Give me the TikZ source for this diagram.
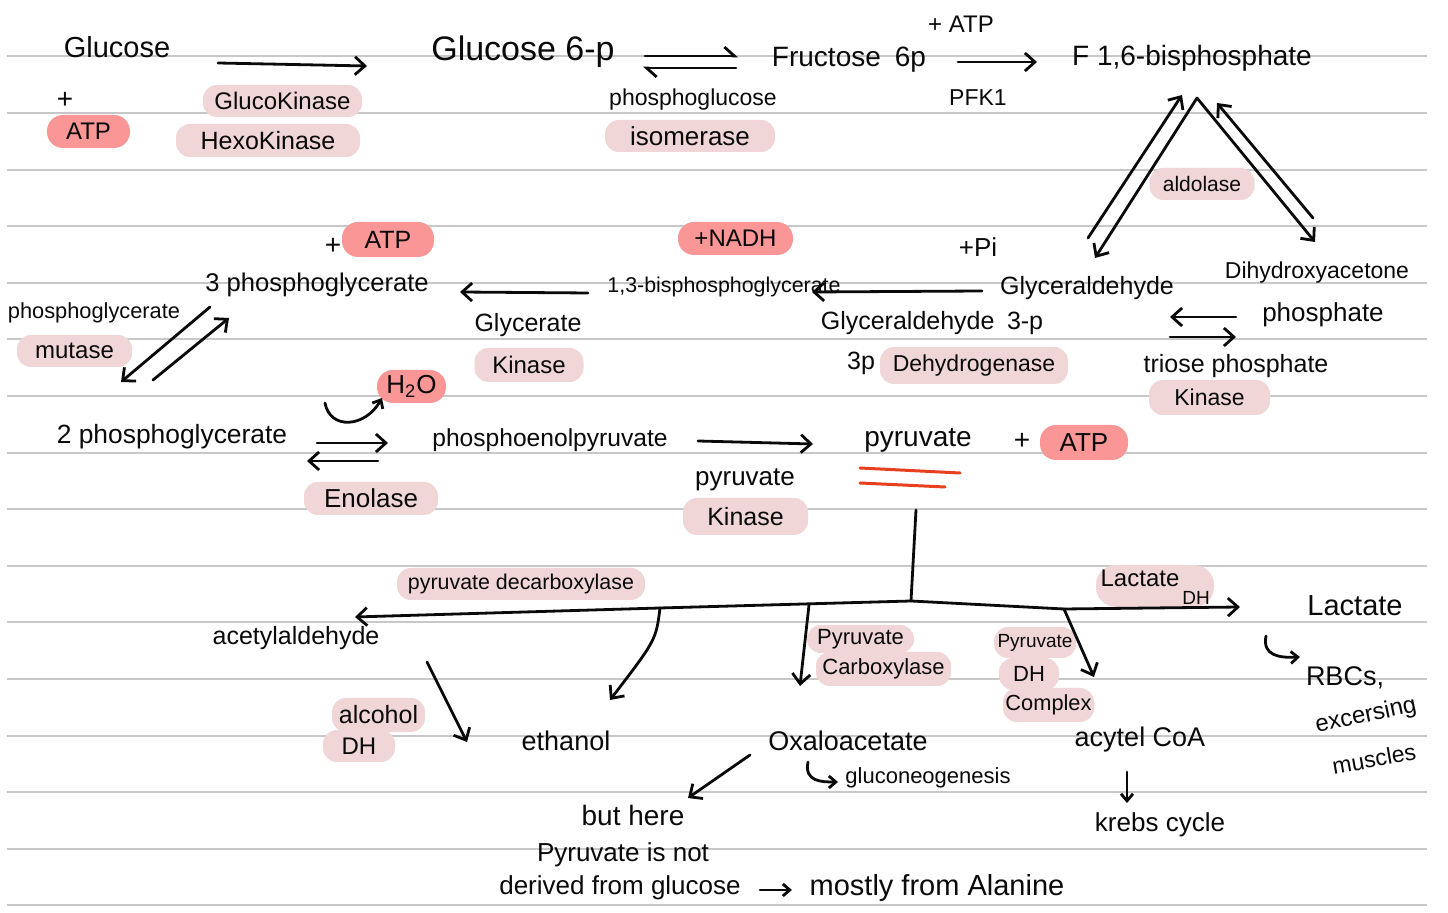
\documentclass[tikz,border=0pt]{standalone}
\usepackage{fontspec}
\setmainfont{Liberation Sans}
\usetikzlibrary{arrows.meta}
\definecolor{pill}{RGB}{240,214,214}
\definecolor{hot}{RGB}{250,150,150}
\definecolor{rulec}{RGB}{200,200,200}
\definecolor{ink}{RGB}{10,10,10}
\definecolor{uline}{RGB}{232,64,30}
\begin{document}
\begin{tikzpicture}[x=0.5pt,y=-0.5pt,
  every node/.style={inner sep=0pt,text=ink},
  fs/.style={font=\fontsize{#1}{#1}\selectfont},
  pk/.style={fill=pill,rounded corners=7pt},
  hotp/.style={fill=hot,rounded corners=8pt},
  ln/.style={draw=ink,line width=1.4pt,line cap=round,line join=round},
  ar/.style={ln,-{Straight Barb[length=5pt,width=9pt]}},
  sar/.style={ln,-{Straight Barb[length=3.5pt,width=6pt]}},
  hp/.style={ln,-{Straight Barb[left,length=5pt,width=9pt]}},
]
\fill[white] (0,0) rectangle (1448,913);
\useasboundingbox (0,0) rectangle (1448,913);
\foreach \i in {0,...,15} \draw[rulec,line width=1pt] (7,56.5+56.6*\i) -- (1427,56.5+56.6*\i);

% ---------- row 1
\node[fs=14.5] (glc) at (117,47) {Glucose};
\node[fs=14] (plus1) at (65,100) {+};
\node[hotp,minimum width=41.5pt,minimum height=16.5pt,fs=12] (atp1) at (88.5,131.5) {ATP};
\node[pk,minimum width=79.5pt,minimum height=16pt,fs=12] (gk) at (282.5,101) {GlucoKinase};
\node[pk,minimum width=92pt,minimum height=16.5pt,fs=12.5] (hk) at (268,140.5) {HexoKinase};
\node[fs=17] (g6p) at (523,52) {Glucose 6-p};
\node[fs=11.5] (pgi1) at (693,100) {phosphoglucose};
\node[pk,minimum width=85pt,minimum height=16pt,fs=13] (pgi2) at (690,136) {isomerase};
\node[fs=14] (f6p) at (849,60) {Fructose\enspace 6p};
\node[fs=12] (atpp) at (961,24) {+ ATP};
\node[fs=11.5] (pfk) at (978,98) {PFK1};
\node[fs=14] (f16) at (1192,58) {F 1,6-bisphosphate};

\coordinate (a1s) at (218,63);  \coordinate (a1e) at (367,66);
\coordinate (e1a) at (645,56);  \coordinate (e1b) at (738,56);
\coordinate (e2a) at (736,68);  \coordinate (e2b) at (643,68);
\coordinate (a2s) at (958,62);  \coordinate (a2e) at (1037,62);
\draw[ar] (a1s) -- (a1e);
\draw[hp] (e1a) -- (e1b);
\draw[hp] (e2a) -- (e2b);
\draw[ar] (a2s) -- (a2e);

% ---------- aldolase triangle
\node[pk,minimum width=52.5pt,minimum height=16pt,fs=10.5] (ald) at (1202,184) {aldolase};
\coordinate (t1) at (1088,238); \coordinate (t2) at (1182,95);
\coordinate (t3) at (1197,98);  \coordinate (t4) at (1095,258);
\coordinate (t5) at (1315,242); \coordinate (t6) at (1313,218);
\coordinate (t7) at (1217,103);
\draw[ar] (t1) -- (t2);
\draw[ar] (t3) -- (t4);
\draw[ar] (t3) -- (t5);
\draw[ar] (t6) -- (t7);

\node[fs=13] (pi) at (978,247) {+Pi};
\node[fs=12.5] (gap) at (1087,288) {Glyceraldehyde};
\node[fs=11.5] (dhap1) at (1317,273) {Dihydroxyacetone};
\node[fs=13] (dhap2) at (1323,315) {phosphate};
\coordinate (tr1) at (1236,317); \coordinate (tr2) at (1170,317);
\coordinate (tr3) at (1170,337); \coordinate (tr4) at (1236,337);
\draw[ar] (tr1) -- (tr2);
\draw[ar] (tr3) -- (tr4);
\node[fs=12.5] (tpi1) at (1236,366) {triose phosphate};
\node[pk,minimum width=60.5pt,minimum height=17.5pt,fs=11.5] (tpi2) at (1209.5,397.5) {Kinase};

% ---------- row 2
\node[fs=10.7] (bpg) at (724,287) {1,3-bisphosphoglycerate};
\coordinate (b1s) at (982,291); \coordinate (b1e) at (812,292);
\draw[ar] (b1s) -- (b1e);
\node[hotp,minimum width=57.5pt,minimum height=16.5pt,fs=12] (nadh) at (735.5,238.5) {+NADH};
\node[fs=12.5] (gapdh1) at (932,323) {Glyceraldehyde\enspace 3-p};
\node[fs=12.5] (gapdh2) at (861,363) {3p};
\node[pk,minimum width=94pt,minimum height=18.5pt,fs=11.5] (gapdh3) at (974,365.5) {Dehydrogenase};
\coordinate (b2s) at (588,293); \coordinate (b2e) at (460,292);
\draw[ar] (b2s) -- (b2e);
\node[fs=12.8] (pg3) at (317,285) {3 phosphoglycerate};
\node[fs=14] (plus2) at (333,246) {+};
\node[hotp,minimum width=46pt,minimum height=17.5pt,fs=12.5] (atp2) at (388,239.5) {ATP};
\node[fs=10.9] (pgm1) at (94,313) {phosphoglycerate};
\node[pk,minimum width=57.5pt,minimum height=16pt,fs=12] (pgm2) at (74.5,351) {mutase};
\coordinate (m1s) at (210,307); \coordinate (m1e) at (121,382);
\coordinate (m2s) at (153,380); \coordinate (m2e) at (229,318);
\draw[ar] (m1s) -- (m1e);
\draw[ar] (m2s) -- (m2e);
\node[fs=12.5] (pgk1) at (528,325) {Glycerate};
\node[pk,minimum width=54.5pt,minimum height=17pt,fs=12] (pgk2) at (529,365) {Kinase};
\node[hotp,minimum width=34.5pt,minimum height=16.5pt,fs=13] (h2o) at (411.5,386.5) {H\textsubscript{2}O};
\coordinate (w1) at (325,403); \coordinate (w2) at (382,398);
\draw[sar] (w1) .. controls (330,430) and (365,428) .. (w2);

% ---------- row 3
\node[fs=13.2] (pg2) at (172,437) {2 phosphoglycerate};
\coordinate (n1s) at (317,443); \coordinate (n1e) at (388,443);
\coordinate (n2s) at (378,461); \coordinate (n2e) at (307,461);
\draw[ar] (n1s) -- (n1e);
\draw[ar] (n2s) -- (n2e);
\node[pk,minimum width=67pt,minimum height=16.5pt,fs=13] (eno) at (371,498.5) {Enolase};
\node[fs=12.3] (pep) at (550,440) {phosphoenolpyruvate};
\coordinate (p1s) at (698,441); \coordinate (p1e) at (813,444);
\draw[ar] (p1s) -- (p1e);
\node[fs=14] (pyr) at (918,440) {pyruvate};
\draw[uline,line width=1.5pt,line cap=round] (860,468) -- (960,473);
\draw[uline,line width=1.5pt,line cap=round] (860,483) -- (945,487);
\node[fs=14] (plus3) at (1022,441) {+};
\node[hotp,minimum width=44pt,minimum height=17.5pt,fs=13] (atp3) at (1084,442.5) {ATP};
\node[fs=13] (pk1) at (745,480) {pyruvate};
\node[pk,minimum width=62.5pt,minimum height=18.5pt,fs=12.5] (pk2) at (745.5,516.5) {Kinase};

% ---------- fates of pyruvate
\node[pk,minimum width=124pt,minimum height=16pt,fs=10.7] (pdc) at (521,584) {pyruvate decarboxylase};
\node[fs=12.5] (acetald) at (296,638) {acetylaldehyde};
\node[pk,minimum width=46.5pt,minimum height=17pt,fs=12.5] (adh1) at (378.5,715) {alcohol};
\node[pk,minimum width=36pt,minimum height=16pt,fs=12] (adh2) at (359,746) {DH};
\node[fs=13.5] (ethanol) at (566,741) {ethanol};
\node[pk,minimum width=53.5pt,minimum height=14pt,fs=11] (pc1) at (860.5,639) {Pyruvate};
\node[pk,minimum width=67.5pt,minimum height=17pt,fs=11] (pc2) at (883.5,669) {Carboxylase};
\node[pk,minimum width=41pt,minimum height=15.5pt,fs=9.5] (pdh1) at (1035,642.5) {Pyruvate};
\node[pk,minimum width=30pt,minimum height=16pt,fs=11] (pdh2) at (1029,674) {DH};
\node[pk,minimum width=45.5pt,minimum height=17pt,fs=10.9] (pdh3) at (1048.5,705) {Complex};
\node[pk,minimum width=59pt,minimum height=21pt,rounded corners=10pt] (ldhp) at (1155,586) {};
\node[fs=12] (ldh1) at (1140,578) {Lactate};
\node[fs=9.5] (ldh2) at (1196,598) {DH};
\node[fs=14.5] (lac) at (1355,606) {Lactate};
\node[fs=13.5] (rbc) at (1345,678) {RBCs,};
\node[fs=12,rotate=12] (exc) at (1366,716) {excersing};
\node[fs=11.5,rotate=10] (mus) at (1374,759) {muscles};
\node[fs=13.5] (oaa) at (848,741) {Oxaloacetate};
\node[fs=11] (gng) at (928,778) {gluconeogenesis};
\node[fs=14] (bh1) at (633,815) {but here};
\node[fs=13] (bh2) at (623,855) {Pyruvate is not};
\node[fs=13] (bh3) at (620,888) {derived from glucose};
\node[fs=14.5] (bh4) at (937,888) {mostly from Alanine};
\node[fs=13.5] (acoa) at (1140,740) {acytel CoA};
\node[fs=13] (krebs) at (1160,825) {krebs cycle};

\coordinate (pvt) at (916,510); \coordinate (pvj) at (911,601);
\coordinate (jl) at (660,608);  \coordinate (jr) at (1064,609);
\coordinate (jpc) at (809,605);
\coordinate (lactip) at (1240,607); \coordinate (acettip) at (355,617);
\coordinate (ethtip) at (610,700);  \coordinate (pctip) at (800,686);
\coordinate (pdhtip) at (1094,677);
\draw[ln] (pvt) -- (pvj);
\draw[ln] (jl) -- (pvj) -- (jr);
\draw[ar] (jr) -- (lactip);
\draw[ar] (jl) -- (acettip);
\draw[ar] (jl) .. controls (656,640) .. (ethtip);
\draw[ar] (jpc) -- (pctip);
\draw[ar] (jr) -- (pdhtip);

\coordinate (x1s) at (427,662); \coordinate (x1e) at (467,742);
\draw[ar] (x1s) -- (x1e);
\coordinate (sq1) at (1266,636); \coordinate (sq2) at (1300,657);
\draw[sar] (sq1) .. controls (1262,656) and (1280,658) .. (sq2);
\coordinate (sq3) at (808,762); \coordinate (sq4) at (838,782);
\draw[sar] (sq3) .. controls (804,782) and (822,782) .. (sq4);
\coordinate (o1s) at (750,755); \coordinate (o1e) at (688,798);
\draw[ar] (o1s) -- (o1e);
\coordinate (d1s) at (760,890); \coordinate (d1e) at (792,890);
\draw[sar] (d1s) -- (d1e);
\coordinate (k1s) at (1127,772); \coordinate (k1e) at (1127,803);
\draw[sar] (k1s) -- (k1e);
\end{tikzpicture}
\end{document}
